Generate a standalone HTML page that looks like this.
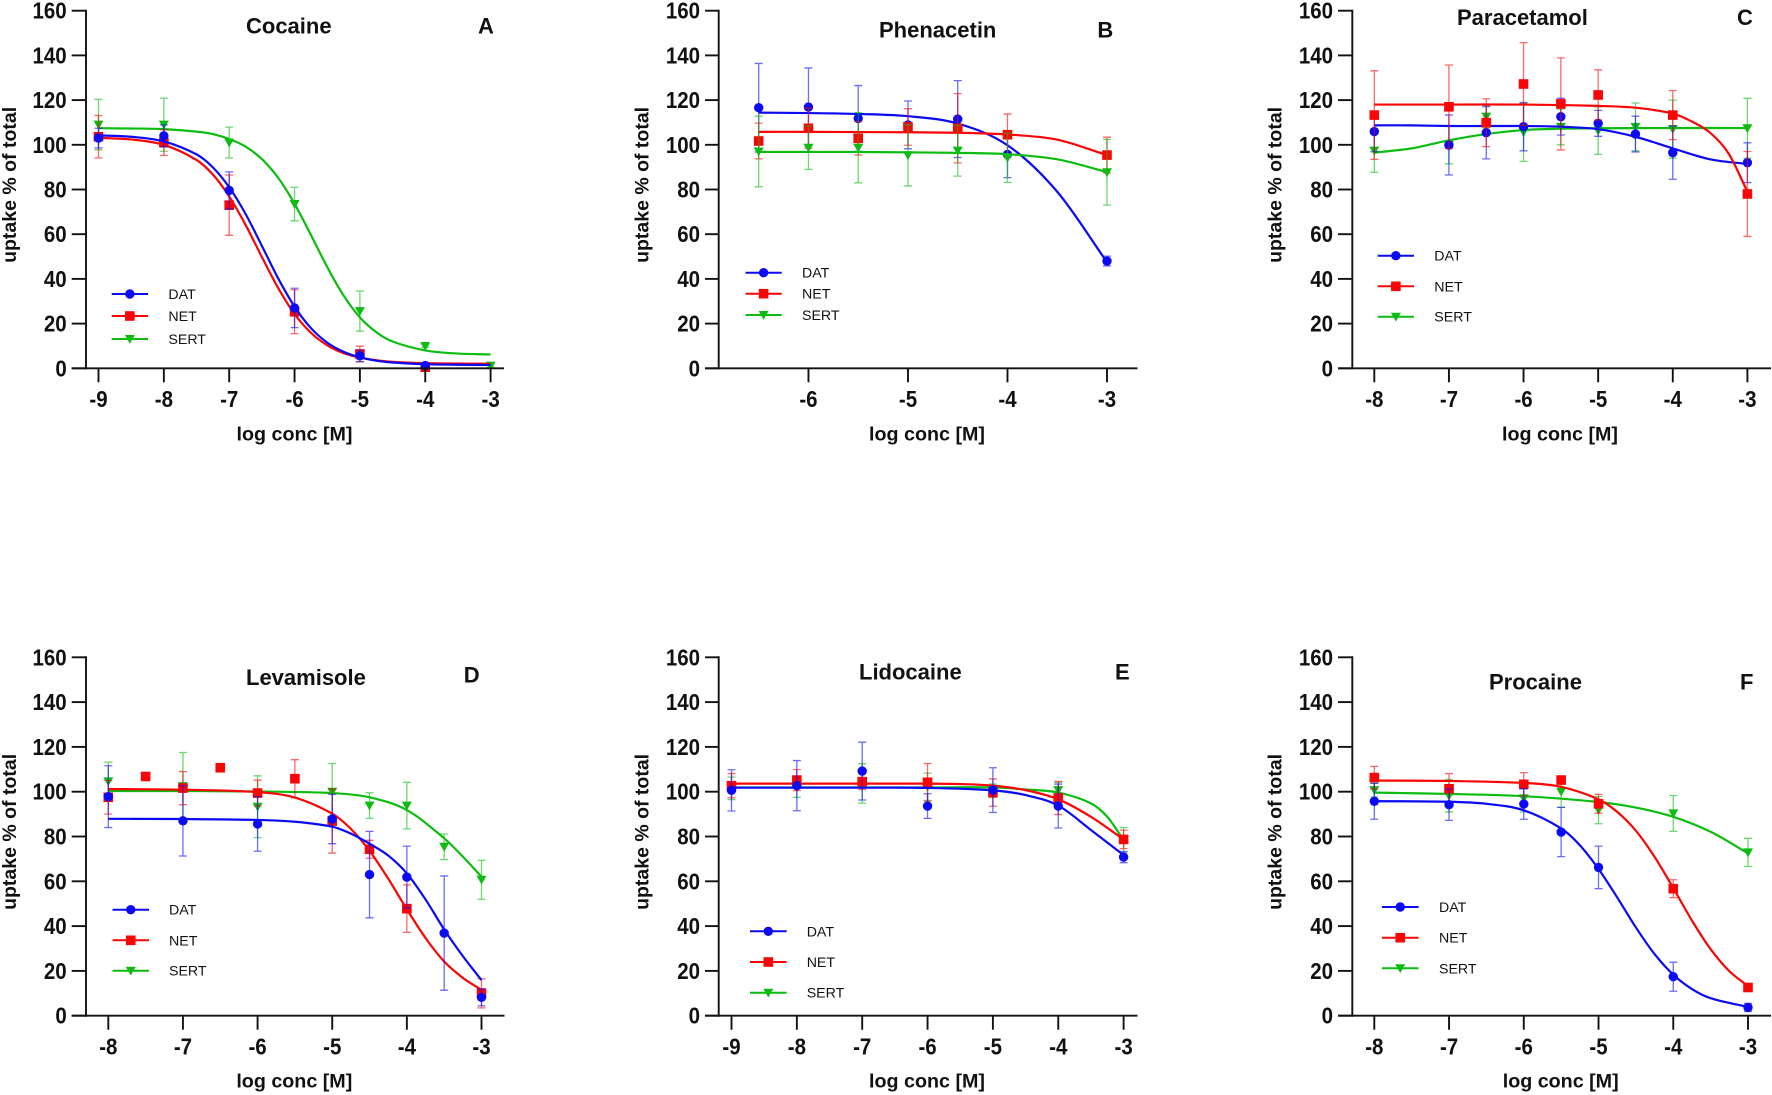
<!DOCTYPE html>
<html lang="en">
<head>
<meta charset="utf-8">
<title>Uptake inhibition curves</title>
<style>
html,body{margin:0;padding:0;background:#fff;}
svg{display:block;font-family:"Liberation Sans",Arial,sans-serif;filter:blur(0.35px);}
</style>
</head>
<body>
<svg id="chart" xmlns="http://www.w3.org/2000/svg" width="1772" height="1095" viewBox="0 0 1772 1095"></svg>
<script>
// ---------- shared data ----------
const yTickValues = [0, 20, 40, 60, 80, 100, 120, 140, 160];
const seriesNames = ["DAT", "NET", "SERT"];
const xAxisTitle = "log conc [M]";
const yAxisTitle = "uptake % of total";

// ---------- A: Cocaine ----------
const cocaineTicks = [-9, -8, -7, -6, -5, -4, -3];
const cocaineDatX = [-9, -8, -7, -6, -5, -4];
const cocaineDatY = [103, 104, 79.6, 27, 5.6, 1.2];
const cocaineDatErr = [4.4, 4.9, 8.3, 8.8, 2.6, 1];
const cocaineNetX = [-9, -8, -7, -6, -5, -4];
const cocaineNetY = [103.6, 101, 73, 25.3, 6.4, 0.5];
const cocaineNetErr = [9.5, 5.8, 13.5, 9.8, 3.5, 1];
const cocaineSertX = [-9, -8, -7, -6, -5, -4, -3];
const cocaineSertY = [109, 109, 101, 73.5, 25.6, 10, 1.2];
const cocaineSertErr = [11.3, 11.9, 6.9, 7.5, 9, 0.6, 0.5];
const cocaineCurveX = [-9, -8.5, -8, -7.5, -7.25, -7, -6.75, -6.5, -6.25, -6, -5.75, -5.5, -5.25, -5, -4.75, -4.5, -4, -3.5, -3];
const cocaineDatCurve = [104.2, 103.6, 101.5, 95.7, 89.9, 81, 69.1, 54.8, 40.2, 27.6, 18, 11.5, 7.4, 4.9, 3.4, 2.6, 1.85, 1.6, 1.5];
const cocaineNetCurve = [103.1, 102.4, 100, 93.2, 86.7, 76.9, 64.2, 49.8, 35.9, 24.3, 15.9, 10.3, 6.8, 4.8, 3.6, 2.9, 2.3, 2.1, 2];
const cocaineSertCurve = [107.45, 107.3, 107, 105.9, 104.8, 102.6, 99.2, 93.6, 85.2, 73.6, 59.7, 45.3, 32.6, 22.8, 16.2, 12, 8, 6.6, 6.2];

// ---------- B: Phenacetin ----------
const phenacetinTicks = [-6, -5, -4, -3];
const phenacetinX = [-6.5, -6, -5.5, -5, -4.5, -4, -3];
const phenacetinDatY = [116.6, 116.9, 111.8, 108.9, 111.5, 95.7, 48];
const phenacetinDatErr = [19.8, 17.5, 14.7, 10.7, 17.2, 10.4, 2.2];
const phenacetinNetY = [101.7, 107.4, 102.9, 108, 107.4, 104.5, 95.4];
const phenacetinNetErr = [8, 9, 7.5, 8.2, 15.5, 9.3, 8];
const phenacetinSertY = [97, 98.7, 98.7, 95.3, 97.4, 94.2, 87.7];
const phenacetinSertErr = [15.8, 9.7, 15.7, 13.7, 11.4, 11, 14.7];
const phenacetinCurveX = [-6.5, -6, -5.5, -5, -4.5, -4, -3.5, -3];
const phenacetinDatCurve = [114.4, 114.2, 113.8, 112.8, 109.5, 99.8, 79, 47.5];
const phenacetinNetCurve = [105.8, 105.8, 105.7, 105.6, 105.4, 104.6, 102.3, 95.4];
const phenacetinSertCurve = [96.8, 96.8, 96.8, 96.6, 96.4, 95.8, 93.5, 87.8];

// ---------- C: Paracetamol ----------
const paracetamolTicks = [-8, -7, -6, -5, -4, -3];
const paracetamolX = [-8, -7, -6.5, -6, -5.5, -5, -4.5, -4, -3];
const paracetamolDatY = [105.9, 99.9, 105.4, 108.1, 112.6, 109.6, 104.8, 96.5, 92];
const paracetamolDatErr = [9, 13.4, 11.7, 10.8, 8.2, 5.8, 8, 11.9, 8.9];
const paracetamolNetY = [113.3, 117, 109.9, 127.2, 118.3, 122.3, null, 113.3, 78];
const paracetamolNetErr = [19.8, 18.7, 10.7, 18.5, 20.6, 11.2, 0, 11, 19];
const paracetamolSertY = [97.4, 100, 112.6, 105.6, 108, 106.3, 108, 107, 107.4];
const paracetamolSertErr = [9.7, 8.5, 5, 13, 8, 10.6, 10.7, 13, 13.4];
const paracetamolDatCurveX = [-8, -7.5, -7, -6.5, -6, -5.5, -5, -4.5, -4, -3.5, -3];
const paracetamolDatCurve = [108.7, 108.7, 108.4, 108.4, 108.4, 108.1, 107, 103.6, 98.4, 93.5, 91.4];
const paracetamolNetCurveX = [-8, -7, -6, -5, -4.5, -4, -3.75, -3.5, -3.25, -3];
const paracetamolNetCurve = [118, 118, 118, 117.4, 116.6, 114, 110.5, 105.4, 96, 79];
const paracetamolSertCurveX = [-8, -7.5, -7, -6.5, -6, -5.5, -5, -4, -3];
const paracetamolSertCurve = [96.5, 98.4, 102, 104.8, 106.6, 107.2, 107.4, 107.5, 107.5];

// ---------- D: Levamisole ----------
const levamisoleTicks = [-8, -7, -6, -5, -4, -3];
const levamisoleDatX = [-8, -7, -6, -5, -4.5, -4, -3.5, -3];
const levamisoleDatY = [97.8, 87, 85.6, 87.8, 63, 61.9, 36.9, 8.2];
const levamisoleDatErr = [13.8, 15.7, 12.2, 11, 19.3, 13.8, 25.5, 3.8];
const levamisoleNetX = [-8, -7.5, -7, -6.5, -6, -5.5, -5, -4.5, -4, -3];
const levamisoleNetY = [97.5, 106.8, 101.6, 110.7, 99.4, 105.8, 86.9, 74.3, 47.8, 10];
const levamisoleNetErr = [7.5, 0, 7.4, 0, 5.8, 8.5, 14.3, 4, 10.6, 6.5];
const levamisoleSertX = [-8, -7, -6, -5, -4.5, -4, -3.5, -3];
const levamisoleSertY = [104.6, 102.5, 93.3, 100, 93.8, 93.8, 75.4, 60.7];
const levamisoleSertErr = [8.6, 15, 13.8, 12.6, 5.7, 10.4, 5.7, 8.7];
const levamisoleCurveX = [-8, -7, -6, -5.5, -5, -4.75, -4.5, -4.25, -4, -3.75, -3.5, -3.25, -3];
const levamisoleDatCurve = [87.9, 87.8, 87.4, 86.6, 84.4, 81.3, 76.8, 71.5, 63.5, 51.9, 38.5, 26.6, 15.9];
const levamisoleNetCurve = [101.2, 100.9, 99.8, 97.4, 90.2, 83.4, 73.6, 61.2, 47.5, 34.7, 24.2, 16.9, 11.5];
const levamisoleSertCurveX = [-8, -7, -6, -5, -4.5, -4, -3.5, -3.25, -3];
const levamisoleSertCurve = [100.3, 100.3, 100.1, 99.4, 97.5, 91.8, 79.2, 71, 62];

// ---------- E: Lidocaine ----------
const lidocaineTicks = [-9, -8, -7, -6, -5, -4, -3];
const lidocaineX = [-9, -8, -7, -6, -5, -4, -3];
const lidocaineDatY = [100.6, 102.7, 109.2, 93.6, 100.7, 93.6, 70.8];
const lidocaineDatErr = [9.2, 11.2, 12.9, 5.5, 10, 9.8, 2.5];
const lidocaineNetY = [102.7, 105.2, 104.5, 104.2, 99.6, 97.2, 78.7];
const lidocaineNetErr = [5.4, 4.7, 3.5, 8.4, 6.1, 7.4, 4.1];
const lidocaineSertY = [101.5, 102.2, 103.7, 102.2, 100.4, 100.7, 78.4];
const lidocaineSertErr = [5, 4.7, 8.8, 6.1, 3, 3.5, 5.6];
const lidocaineDatCurveX = [-9, -8, -7, -6, -5, -4.5, -4, -3.5, -3];
const lidocaineDatCurve = [101.8, 101.8, 101.8, 101.7, 100.6, 98.5, 93.8, 82.9, 71.7];
const lidocaineNetCurveX = [-9, -8, -7, -6, -5.5, -5, -4.5, -4, -3.5, -3];
const lidocaineNetCurve = [103.6, 103.6, 103.6, 103.6, 103.4, 102.7, 100.7, 96.6, 88.8, 78.7];
const lidocaineSertCurveX = [-9, -8, -7, -6, -5, -4.5, -4, -3.5, -3.25, -3];
const lidocaineSertCurve = [101.9, 101.9, 101.9, 101.9, 101.9, 101, 99.6, 94.8, 88.8, 78.4];

// ---------- F: Procaine ----------
const procaineTicks = [-8, -7, -6, -5, -4, -3];
const procaineX = [-8, -7, -6, -5.5, -5, -4, -3];
const procaineDatY = [95.7, 94.2, 94.5, 82, 66.2, 17.4, 3.7];
const procaineDatErr = [8, 7, 6.8, 11, 9.5, 6.5, 1.8];
const procaineNetY = [106.3, 101.3, 103.3, 105.2, 94.6, 56.7, 12.6];
const procaineNetErr = [5, 6.8, 5.2, 1.7, 4.2, 4, 1];
const procaineSertY = [100.7, 98.2, 97, 100, 91.8, 90.3, 72.9];
const procaineSertErr = [3, 7.3, 6, 7, 6.1, 8, 6.3];
const procaineDatCurveX = [-8, -7, -6.5, -6, -5.5, -5.25, -5, -4.75, -4.5, -4.25, -4, -3.75, -3.5, -3];
const procaineDatCurve = [95.8, 95.5, 94.6, 91.7, 83.6, 76.1, 65.5, 52.8, 39.4, 27.5, 18.3, 11.9, 7.8, 3.9];
const procaineNetCurveX = [-8, -7, -6, -5.5, -5, -4.75, -4.5, -4.25, -4, -3.75, -3.5, -3.25, -3];
const procaineNetCurve = [105, 104.8, 103.9, 102.2, 96.6, 91, 82.6, 70.9, 57, 42.5, 29.7, 19.9, 13.2];
const procaineSertCurveX = [-8, -7, -6, -5, -4.5, -4, -3.5, -3];
const procaineSertCurve = [99.6, 99, 98, 95.4, 92.9, 88.8, 82.1, 72.5];

// ---------- panel wiring (layout kept apart from the data) ----------
const seriesColors = {DAT: "#0a0af5", NET: "#fa0505", SERT: "#0cbc10"};
const panels = [
  {key: "a", title: "Cocaine", letter: "A", ticks: cocaineTicks,
   xMin: -9, xMax: -3, axisX: 86, pxMin: 98.5, pxMax: 490.6, end: 504, tickL: 71.7, top: 10.7, bottom: 368.3,
   labelX: 294.5, yLabelX: 15.8, titleX: 246, titleY: 33.3, letterX: 478, letterY: 33.3,
   legX1: 111.7, legX2: 148, legText: 168.4, legRows: [294, 316, 339], order: ["SERT", "NET", "DAT"],
   data: {
     DAT: {x: cocaineDatX, y: cocaineDatY, e: cocaineDatErr, cx: cocaineCurveX, cy: cocaineDatCurve},
     NET: {x: cocaineNetX, y: cocaineNetY, e: cocaineNetErr, cx: cocaineCurveX, cy: cocaineNetCurve},
     SERT: {x: cocaineSertX, y: cocaineSertY, e: cocaineSertErr, cx: cocaineCurveX, cy: cocaineSertCurve}}},
  {key: "b", title: "Phenacetin", letter: "B", ticks: phenacetinTicks,
   xMin: -6.5, xMax: -3, axisX: 718.7, pxMin: 758.7, pxMax: 1107, end: 1137.5, tickL: 705, top: 10.7, bottom: 368.3,
   labelX: 927, yLabelX: 648.5, titleX: 879, titleY: 37.3, letterX: 1097.4, letterY: 37.3,
   legX1: 745.5, legX2: 781.7, legText: 802, legRows: [272.7, 293.7, 315], order: ["DAT", "NET", "SERT"],
   data: {
     DAT: {x: phenacetinX, y: phenacetinDatY, e: phenacetinDatErr, cx: phenacetinCurveX, cy: phenacetinDatCurve},
     NET: {x: phenacetinX, y: phenacetinNetY, e: phenacetinNetErr, cx: phenacetinCurveX, cy: phenacetinNetCurve},
     SERT: {x: phenacetinX, y: phenacetinSertY, e: phenacetinSertErr, cx: phenacetinCurveX, cy: phenacetinSertCurve}}},
  {key: "c", title: "Paracetamol", letter: "C", ticks: paracetamolTicks,
   xMin: -8, xMax: -3, axisX: 1352.3, pxMin: 1374.3, pxMax: 1747.4, end: 1771, tickL: 1338, top: 10.7, bottom: 368.3,
   labelX: 1560, yLabelX: 1281.5, titleX: 1457, titleY: 25, letterX: 1737, letterY: 25,
   legX1: 1377.7, legX2: 1414, legText: 1434.3, legRows: [255.7, 286.3, 316.7], order: ["SERT", "DAT", "NET"],
   data: {
     DAT: {x: paracetamolX, y: paracetamolDatY, e: paracetamolDatErr, cx: paracetamolDatCurveX, cy: paracetamolDatCurve},
     NET: {x: paracetamolX, y: paracetamolNetY, e: paracetamolNetErr, cx: paracetamolNetCurveX, cy: paracetamolNetCurve},
     SERT: {x: paracetamolX, y: paracetamolSertY, e: paracetamolSertErr, cx: paracetamolSertCurveX, cy: paracetamolSertCurve}}},
  {key: "d", title: "Levamisole", letter: "D", ticks: levamisoleTicks,
   xMin: -8, xMax: -3, axisX: 86, pxMin: 108.3, pxMax: 481.5, end: 504.5, tickL: 71.7, top: 657.3, bottom: 1015.7,
   labelX: 294.3, yLabelX: 15.8, titleX: 246, titleY: 685, letterX: 463.7, letterY: 682.3,
   legX1: 112.5, legX2: 149, legText: 169, legRows: [909.7, 940.3, 970.7], order: ["SERT", "NET", "DAT"],
   data: {
     DAT: {x: levamisoleDatX, y: levamisoleDatY, e: levamisoleDatErr, cx: levamisoleCurveX, cy: levamisoleDatCurve},
     NET: {x: levamisoleNetX, y: levamisoleNetY, e: levamisoleNetErr, cx: levamisoleCurveX, cy: levamisoleNetCurve},
     SERT: {x: levamisoleSertX, y: levamisoleSertY, e: levamisoleSertErr, cx: levamisoleSertCurveX, cy: levamisoleSertCurve}}},
  {key: "e", title: "Lidocaine", letter: "E", ticks: lidocaineTicks,
   xMin: -9, xMax: -3, axisX: 718.7, pxMin: 731.5, pxMax: 1123.6, end: 1137.5, tickL: 705, top: 657.3, bottom: 1015.7,
   labelX: 927, yLabelX: 648.5, titleX: 859, titleY: 679.3, letterX: 1115, letterY: 679.3,
   legX1: 750, legX2: 786.6, legText: 806.7, legRows: [931.3, 962, 992.7], order: ["SERT", "NET", "DAT"],
   data: {
     DAT: {x: lidocaineX, y: lidocaineDatY, e: lidocaineDatErr, cx: lidocaineDatCurveX, cy: lidocaineDatCurve},
     NET: {x: lidocaineX, y: lidocaineNetY, e: lidocaineNetErr, cx: lidocaineNetCurveX, cy: lidocaineNetCurve},
     SERT: {x: lidocaineX, y: lidocaineSertY, e: lidocaineSertErr, cx: lidocaineSertCurveX, cy: lidocaineSertCurve}}},
  {key: "f", title: "Procaine", letter: "F", ticks: procaineTicks,
   xMin: -8, xMax: -3, axisX: 1352.3, pxMin: 1374.3, pxMax: 1748, end: 1771, tickL: 1338, top: 657.3, bottom: 1015.7,
   labelX: 1560.7, yLabelX: 1281.5, titleX: 1489, titleY: 689.3, letterX: 1740, letterY: 689.3,
   legX1: 1381.9, legX2: 1418.6, legText: 1439, legRows: [907, 937.7, 968.3], order: ["SERT", "NET", "DAT"],
   data: {
     DAT: {x: procaineX, y: procaineDatY, e: procaineDatErr, cx: procaineDatCurveX, cy: procaineDatCurve},
     NET: {x: procaineX, y: procaineNetY, e: procaineNetErr, cx: procaineNetCurveX, cy: procaineNetCurve},
     SERT: {x: procaineX, y: procaineSertY, e: procaineSertErr, cx: procaineSertCurveX, cy: procaineSertCurve}}}
];

// ---------- drawing ----------
const svg = document.getElementById("chart");
const NS = "http://www.w3.org/2000/svg";
const AXIS_COLOR = "#111";

function make(tag, attrs, parent, text) {
  const node = document.createElementNS(NS, tag);
  for (const k in attrs) node.setAttribute(k, attrs[k]);
  if (text !== undefined) node.textContent = text;
  parent.appendChild(node);
  return node;
}

function smoothPath(xs, ys, sx, sy) {
  const m = xs.map((_, i) => {
    const a = Math.max(0, i - 1), b = Math.min(xs.length - 1, i + 1);
    return (ys[b] - ys[a]) / (xs[b] - xs[a]);
  });
  let d = "M" + sx(xs[0]).toFixed(2) + " " + sy(ys[0]).toFixed(2);
  for (let i = 0; i < xs.length - 1; i++) {
    const h = (xs[i + 1] - xs[i]) / 3;
    d += " C" + sx(xs[i] + h).toFixed(2) + " " + sy(ys[i] + m[i] * h).toFixed(2) + " "
       + sx(xs[i + 1] - h).toFixed(2) + " " + sy(ys[i + 1] - m[i + 1] * h).toFixed(2) + " "
       + sx(xs[i + 1]).toFixed(2) + " " + sy(ys[i + 1]).toFixed(2);
  }
  return d;
}

function drawMarker(name, px, py, parent) {
  const color = seriesColors[name];
  let mark;
  if (name === "DAT") {
    mark = make("circle", {cx: px, cy: py, r: 4.7, fill: color}, parent);
  } else if (name === "NET") {
    mark = make("rect", {x: px - 4.8, y: py - 4.8, width: 9.6, height: 9.6, fill: color}, parent);
  } else {
    const pts = [[px - 5, py - 4], [px + 5, py - 4], [px, py + 4.8]].map(p => p.join(",")).join(" ");
    mark = make("polygon", {points: pts, fill: color}, parent);
  }
  return mark;
}

panels.forEach(function (p) {
  const sx = v => p.pxMin + (v - p.xMin) / (p.xMax - p.xMin) * (p.pxMax - p.pxMin);
  const sy = v => p.bottom - v / 160 * (p.bottom - p.top);

  const g = make("g", {}, svg);
  
  

  // series, in panel-specific stacking order
  p.order.forEach(function (name) {
    const s = p.data[name];
    const color = seriesColors[name];
    const low = name.toLowerCase();
    const sg = make("g", {}, g);
    
    

    s.x.forEach(function (xv, i) {
      const yv = s.y[i];
      if (yv === null) return;
      const err = s.e[i];
      if (err > 0) {
        const px = sx(xv);
        const bar = make("path", {
          d: "M" + px + " " + sy(yv + err) + " V" + sy(yv - err)
           + " M" + (px - 4) + " " + sy(yv + err) + " H" + (px + 4)
           + " M" + (px - 4) + " " + sy(yv - err) + " H" + (px + 4),
          fill: "none", stroke: color, "stroke-width": 1.3, "stroke-opacity": 0.6
        }, sg);
        
        
      }
    });

    const line = make("path", {
      d: smoothPath(s.cx, s.cy, sx, sy), fill: "none", stroke: color, "stroke-width": 2.2
    }, sg);
    
    

    s.x.forEach(function (xv, i) {
      const yv = s.y[i];
      if (yv === null) return;
      const mark = drawMarker(name, sx(xv), sy(yv), sg);
      
      
    });
  });

  // y axis
  const yLine = make("line", {x1: p.axisX, x2: p.axisX, y1: p.top - 1, y2: p.bottom + 1, stroke: AXIS_COLOR, "stroke-width": 1.9}, g);
  
  
  yTickValues.forEach(function (v) {
    const yy = sy(v);
    const tick = make("line", {x1: p.tickL, x2: p.axisX, y1: yy, y2: yy, stroke: AXIS_COLOR, "stroke-width": 1.9}, g);
    
    
    const lab = make("text", {"text-anchor": "end", "font-size": 23, "font-weight": "bold", fill: "#111",
      transform: "translate(" + (p.tickL - 5) + " " + (yy + 8) + ") scale(0.89 1)"}, g, String(v));
    
    
  });

  // x axis
  const xLine = make("line", {x1: p.tickL, x2: p.end, y1: p.bottom, y2: p.bottom, stroke: AXIS_COLOR, "stroke-width": 1.9}, g);
  
  
  p.ticks.forEach(function (v) {
    const xx = sx(v);
    const tick = make("line", {x1: xx, x2: xx, y1: p.bottom, y2: p.bottom + 14, stroke: AXIS_COLOR, "stroke-width": 1.9}, g);
    
    
    const lab = make("text", {"text-anchor": "middle", "font-size": 23, "font-weight": "bold", fill: "#111",
      transform: "translate(" + xx + " " + (p.bottom + 38.7) + ") scale(0.89 1)"}, g, String(v));
    
    
  });

  // axis titles
  const xt = make("text", {x: p.labelX, y: p.bottom + 72, "text-anchor": "middle", "font-size": 19.7, "font-weight": "bold", fill: "#111"}, g, xAxisTitle);
  
  
  const cy = (p.top + p.bottom) / 2 - 4.6;
  const yt = make("text", {x: p.yLabelX, y: cy, "text-anchor": "middle", "font-size": 19.5, "font-weight": "bold", fill: "#111",
    transform: "rotate(-90 " + p.yLabelX + " " + cy + ")"}, g, yAxisTitle);
  
  

  // panel title and letter
  const title = make("text", {x: p.titleX, y: p.titleY, "font-size": 22, "font-weight": "bold", fill: "#111"}, g, p.title);
  
  
  const letter = make("text", {x: p.letterX, y: p.letterY, "font-size": 22, "font-weight": "bold", fill: "#111"}, g, p.letter);
  
  

  // legend
  const lg = make("g", {}, g);
  
  
  seriesNames.forEach(function (name, i) {
    const ry = p.legRows[i];
    const entry = make("g", {}, lg);
    
    
    const swatch = make("line", {x1: p.legX1, x2: p.legX2, y1: ry, y2: ry, stroke: seriesColors[name], "stroke-width": 2}, entry);
    
    
    const symbol = drawMarker(name, (p.legX1 + p.legX2) / 2, ry, entry);
    
    
    const label = make("text", {x: p.legText, y: ry + 5, "font-size": 14.2, fill: "#111"}, entry, name);
    
    
  });
});
</script>
</body>
</html>
